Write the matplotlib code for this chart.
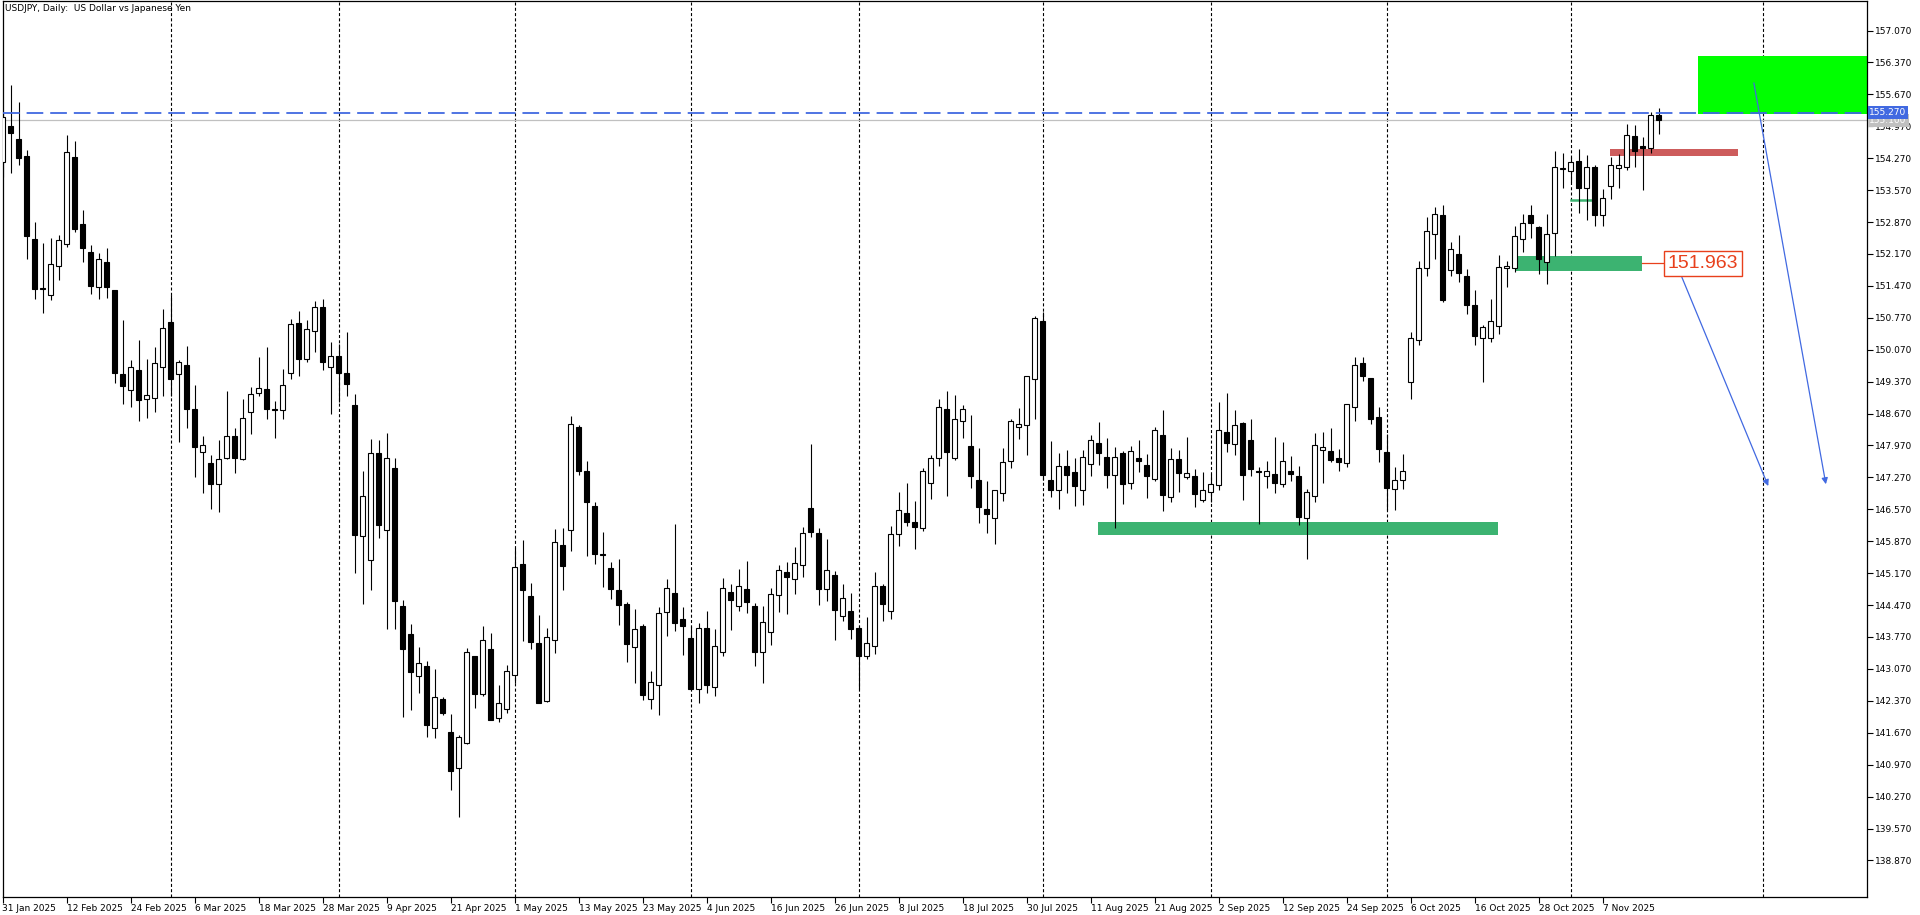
import numpy as np
import matplotlib
matplotlib.use('Agg')
import matplotlib.pyplot as plt
import matplotlib.transforms as mtransforms
from matplotlib.patches import Rectangle

plt.rcParams['font.family'] = ['DejaVu Sans']
plt.rcParams['lines.scale_dashes'] = False

# USDJPY daily candles, 31 Jan 2025 .. 18 Nov 2025 (one bar per weekday)
opens = [
    154.19, 154.98, 154.69, 154.31, 152.49, 151.43, 151.28, 151.91, 152.38, 154.29,
    152.82, 152.21, 151.45, 151.99, 151.38, 149.53, 149.18, 149.62, 148.98, 149.00,
    149.70, 150.67, 149.53, 149.73, 148.78, 147.82, 147.58, 147.12, 147.69, 148.17,
    147.67, 148.70, 149.11, 149.20, 148.77, 148.74, 149.55, 150.65, 149.86, 150.49,
    151.00, 149.70, 149.93, 149.55, 148.86, 145.98, 145.45, 147.80, 146.12, 147.47,
    144.44, 143.83, 142.92, 143.13, 141.77, 142.41, 141.69, 140.89, 141.44, 143.35,
    142.51, 143.50, 141.99, 142.18, 142.93, 145.37, 144.66, 143.63, 142.37, 143.70,
    145.78, 146.11, 148.37, 147.41, 146.64, 145.58, 145.28, 144.79, 144.49, 143.54,
    144.00, 142.42, 142.71, 144.31, 144.73, 144.16, 143.74, 142.64, 143.96, 142.67,
    143.43, 144.75, 144.44, 144.82, 144.44, 143.45, 143.89, 144.68, 145.19, 145.04,
    145.34, 146.60, 146.05, 144.83, 145.12, 144.22, 144.35, 143.96, 143.35, 143.58,
    144.88, 144.35, 146.02, 146.48, 146.29, 146.15, 147.14, 147.69, 148.78, 147.70,
    148.50, 147.95, 147.21, 146.57, 146.39, 146.92, 147.64, 148.38, 148.41, 149.42,
    150.70, 147.21, 147.00, 147.51, 147.38, 147.00, 147.56, 148.02, 147.71, 147.33,
    147.80, 147.15, 147.69, 147.54, 147.24, 148.21, 146.83, 147.67, 147.27, 147.29,
    146.77, 146.94, 147.10, 148.26, 148.01, 148.46, 148.10, 147.40, 147.29, 147.34,
    147.12, 147.40, 147.29, 146.39, 146.87, 147.86, 147.84, 147.69, 147.58, 148.81,
    149.77, 149.44, 148.59, 147.82, 147.01, 147.21, 149.36, 150.28, 151.87, 152.60,
    153.02, 151.81, 152.16, 151.68, 151.04, 150.32, 150.33, 150.60, 151.86, 151.87,
    152.49, 153.02, 152.75, 151.99, 152.62, 154.04, 153.98, 154.21, 153.61, 154.08,
    153.03, 153.65, 154.05, 154.08, 154.75, 154.54, 154.50, 155.21,
]
highs = [
    155.25, 155.87, 155.50, 154.45, 152.86, 152.41, 152.52, 152.59, 154.78, 154.65,
    153.13, 152.36, 152.19, 152.29, 151.39, 150.72, 149.84, 150.28, 149.87, 150.13,
    150.96, 151.28, 149.84, 150.15, 149.29, 148.18, 147.76, 148.08, 149.17, 148.35,
    148.99, 149.25, 149.90, 150.13, 148.95, 149.65, 150.74, 150.91, 150.72, 151.14,
    151.18, 150.24, 150.19, 150.45, 149.09, 147.41, 148.11, 148.08, 148.24, 147.69,
    144.58, 144.05, 143.55, 143.24, 143.07, 142.46, 142.08, 141.62, 143.53, 143.36,
    144.00, 143.86, 142.72, 143.16, 145.72, 145.89, 144.95, 144.25, 143.96, 146.13,
    146.15, 148.62, 148.42, 147.64, 146.72, 146.07, 145.41, 145.47, 144.54, 144.38,
    144.05, 143.02, 144.42, 145.04, 146.25, 144.43, 144.00, 144.08, 144.35, 143.94,
    145.06, 144.93, 145.26, 145.44, 144.52, 144.44, 144.84, 145.34, 145.41, 145.74,
    146.18, 148.00, 146.15, 145.92, 145.22, 144.93, 144.74, 144.00, 144.21, 145.19,
    144.93, 146.20, 146.95, 147.15, 146.75, 147.48, 147.76, 148.99, 149.16, 149.08,
    148.86, 148.64, 147.91, 147.19, 147.00, 147.91, 148.55, 148.79, 149.50, 150.81,
    150.90, 148.07, 147.80, 147.86, 147.70, 147.87, 148.21, 148.48, 148.14, 147.94,
    147.85, 147.96, 148.09, 147.78, 148.37, 148.75, 147.91, 147.87, 148.16, 147.45,
    147.39, 147.34, 148.92, 149.12, 148.75, 148.48, 148.55, 147.49, 147.63, 148.16,
    148.05, 147.74, 147.52, 147.01, 148.24, 148.27, 148.36, 147.89, 148.88, 149.91,
    149.92, 149.46, 148.81, 148.22, 147.49, 147.78, 150.45, 152.02, 152.98, 153.21,
    153.24, 152.43, 152.58, 151.84, 151.37, 150.61, 151.18, 152.15, 152.02, 152.78,
    153.05, 153.24, 152.78, 153.05, 154.43, 154.38, 154.29, 154.47, 154.33, 154.11,
    153.59, 154.29, 154.37, 155.01, 154.99, 154.73, 155.29, 155.37,
]
lows = [
    153.85, 153.94, 154.13, 152.06, 151.18, 150.88, 151.15, 151.60, 152.32, 152.66,
    152.00, 151.30, 151.19, 151.21, 149.35, 148.89, 148.82, 148.51, 148.58, 148.71,
    149.06, 149.06, 148.05, 148.36, 147.27, 146.92, 146.58, 146.50, 147.68, 147.37,
    147.65, 148.23, 149.06, 148.56, 148.14, 148.54, 149.42, 149.50, 149.81, 150.03,
    149.63, 148.67, 148.93, 149.06, 145.17, 144.50, 144.79, 145.93, 143.95, 143.95,
    142.02, 142.17, 142.55, 141.58, 141.56, 142.07, 140.42, 139.83, 141.42, 142.22,
    142.48, 141.94, 141.91, 142.11, 142.77, 143.68, 143.50, 142.32, 142.35, 143.41,
    144.79, 145.66, 147.32, 145.55, 145.37, 144.87, 144.60, 144.04, 143.23, 142.77,
    142.38, 142.18, 142.07, 143.80, 143.91, 143.37, 142.61, 142.33, 142.55, 142.48,
    143.35, 143.93, 144.35, 144.29, 143.14, 142.75, 143.60, 144.32, 144.28, 144.71,
    145.09, 145.97, 144.48, 144.57, 143.71, 144.13, 143.73, 142.64, 143.28, 143.40,
    144.13, 144.17, 145.77, 146.21, 145.71, 146.10, 146.80, 147.51, 146.87, 147.66,
    148.14, 147.04, 146.26, 146.06, 145.82, 146.76, 147.48, 148.12, 147.77, 148.56,
    147.22, 146.83, 146.58, 146.93, 146.65, 146.67, 147.31, 147.55, 147.04, 146.17,
    146.69, 147.02, 147.39, 146.82, 147.20, 146.54, 146.72, 146.96, 147.24, 146.63,
    146.72, 146.72, 147.00, 147.83, 147.75, 146.77, 147.31, 146.25, 147.04, 146.93,
    147.07, 147.18, 146.23, 145.47, 146.74, 147.15, 147.61, 147.42, 147.49, 148.51,
    149.38, 148.43, 147.61, 146.56, 146.56, 147.02, 148.99, 150.18, 151.69, 152.07,
    151.12, 151.69, 151.56, 150.86, 150.18, 149.36, 150.24, 150.42, 151.45, 151.78,
    152.22, 152.53, 151.72, 151.50, 152.12, 153.62, 153.75, 153.06, 152.91, 152.79,
    152.79, 153.38, 153.62, 154.02, 154.08, 153.58, 154.39, 154.79,
]
closes = [
    155.17, 154.83, 154.28, 152.57, 151.41, 151.40, 151.96, 152.47, 154.40, 152.72,
    152.31, 151.47, 152.05, 151.45, 149.57, 149.28, 149.68, 148.97, 149.07, 149.77,
    150.54, 149.43, 149.79, 148.77, 147.93, 147.97, 147.12, 147.68, 148.17, 147.70,
    148.57, 149.09, 149.22, 148.76, 148.74, 149.29, 150.63, 149.86, 150.52, 151.00,
    149.81, 149.93, 149.57, 149.31, 146.01, 146.86, 147.80, 146.23, 147.69, 144.55,
    143.51, 143.01, 143.19, 141.85, 142.45, 142.11, 140.84, 141.57, 143.43, 142.51,
    143.70, 141.96, 142.32, 143.02, 145.30, 144.81, 143.65, 142.33, 143.78, 145.85,
    145.33, 148.43, 147.40, 146.72, 145.60, 145.56, 144.83, 144.48, 143.62, 143.94,
    142.50, 142.78, 144.29, 144.84, 144.08, 144.02, 142.62, 143.96, 142.72, 143.57,
    144.84, 144.59, 144.88, 144.53, 143.45, 144.09, 144.71, 145.23, 145.09, 145.39,
    146.04, 146.08, 144.83, 145.23, 144.37, 144.62, 143.95, 143.36, 143.63, 144.88,
    144.50, 146.02, 146.55, 146.30, 146.19, 147.40, 147.70, 148.82, 147.83, 148.54,
    148.78, 147.31, 146.63, 146.46, 146.99, 147.60, 148.50, 148.43, 149.49, 150.76,
    147.33, 147.00, 147.51, 147.33, 147.09, 147.71, 148.10, 147.81, 147.33, 147.71,
    147.13, 147.84, 147.64, 147.29, 148.32, 146.89, 147.67, 147.37, 147.37, 146.91,
    146.99, 147.12, 148.30, 148.03, 148.41, 147.33, 147.46, 147.39, 147.40, 147.15,
    147.62, 147.35, 146.41, 146.96, 147.97, 147.93, 147.66, 147.61, 148.87, 149.73,
    149.49, 148.56, 147.90, 147.04, 147.21, 147.42, 150.32, 151.86, 152.67, 153.04,
    151.15, 152.27, 151.76, 151.04, 150.38, 150.56, 150.71, 151.88, 151.90, 152.56,
    152.84, 152.84, 152.07, 152.60, 154.08, 154.05, 154.18, 153.62, 154.08, 153.03,
    153.39, 154.11, 154.11, 154.77, 154.43, 154.49, 155.21, 155.10,
]

date_labels = ['31 Jan 2025', '12 Feb 2025', '24 Feb 2025', '6 Mar 2025', '18 Mar 2025',
               '28 Mar 2025', '9 Apr 2025', '21 Apr 2025', '1 May 2025', '13 May 2025',
               '23 May 2025', '4 Jun 2025', '16 Jun 2025', '26 Jun 2025', '8 Jul 2025',
               '18 Jul 2025', '30 Jul 2025', '11 Aug 2025', '21 Aug 2025', '2 Sep 2025',
               '12 Sep 2025', '24 Sep 2025', '6 Oct 2025', '16 Oct 2025', '28 Oct 2025',
               '7 Nov 2025']
date_label_bars = list(range(0, 201, 8))
month_start_bars = [21, 42, 64, 86, 107, 130, 151, 173, 196, 220]
price_ticks = [round(138.87 + 0.7 * k, 3) for k in range(27)]

level_line = 155.27     # blue dashed horizontal line
bid_price = 155.10      # grey bid line
label_price = 151.963   # red text label

# zones: (bar_from, bar_to, price_low, price_high, colour)
zones = [
    (211.9, 240.0, 155.24, 156.51, '#00FF00'),
    (200.9, 216.9, 154.325, 154.47, '#CD5C5C'),
    (189.0, 204.9, 151.80, 152.12, '#3CB371'),
    (136.9, 186.9, 146.01, 146.29, '#3CB371'),
]
# projection arrows: (bar_start, price_start, bar_end, price_end)
arrows = [
    (209.9, 151.66, 220.7, 147.08),
    (218.9, 155.92, 227.9, 147.12),
]

fig = plt.figure(figsize=(19.2, 9.15), dpi=100)
ax = fig.add_axes([2.5 / 1920, 18 / 915, (1867 - 2.5) / 1920, 896 / 915])
ax.set_xlim(0, 233.04)
ax.set_ylim(138.068, 157.717)

# month grid
for b in month_start_bars:
    ax.axvline(b, color='black', lw=0.8, dashes=(2.2, 1.6), zorder=0.5)

# zones
for x0, x1, y0, y1, col in zones:
    ax.add_patch(Rectangle((x0, y0), x1 - x0, y1 - y0, facecolor=col, edgecolor='none', zorder=1))
ax.plot([196.1, 199.1], [153.35, 153.35], color='#3CB371', lw=1.8, zorder=1)

# candles
o = np.array(opens)
h = np.array(highs)
l = np.array(lows)
c = np.array(closes)
x = np.arange(len(o))
up = c >= o
ax.vlines(x, l, h, color='black', lw=0.8, zorder=3)
ax.bar(x[up], np.maximum(c - o, 0.01)[up], bottom=o[up], width=0.6,
       facecolor='white', edgecolor='black', lw=0.8, zorder=4)
ax.bar(x[~up], np.maximum(o - c, 0.01)[~up], bottom=c[~up], width=0.6,
       facecolor='black', edgecolor='black', lw=0.8, zorder=4)

# horizontal lines
ax.axhline(level_line, color='#4169E1', lw=1.3, dashes=(12, 5), zorder=5)
ax.axhline(bid_price, color='#C0C0C0', lw=0.9, zorder=2)

# arrows
for xs, ys, xe, ye in arrows:
    ax.annotate('', xy=(xe, ye), xytext=(xs, ys),
                arrowprops=dict(arrowstyle='-|>', color='#4169E1', lw=0.9,
                                mutation_scale=9, shrinkA=0, shrinkB=0), zorder=6)

# price label
ax.plot([204.9, 207.5], [label_price, label_price], color='#E8401C', lw=0.9, zorder=6)
ax.text(212.5, label_price, f'{label_price:.3f}', ha='center', va='center', fontsize=14,
        family=['Liberation Sans', 'DejaVu Sans'], color='#E8401C', zorder=7,
        bbox=dict(boxstyle='square,pad=0.2', facecolor='white', edgecolor='#E8401C', lw=1))

ax.text(0.0015, 0.997, 'USDJPY, Daily:  US Dollar vs Japanese Yen', transform=ax.transAxes,
        ha='left', va='top', fontsize=6.5, zorder=8)

# axes
for s in ax.spines.values():
    s.set_linewidth(0.9)
ax.yaxis.tick_right()
ax.set_yticks(price_ticks)
ax.set_yticklabels([f'{v:.3f}' for v in price_ticks])
ax.tick_params(axis='y', direction='out', length=4, width=0.8, labelsize=6.5, pad=1.5)
ax.set_xticks(date_label_bars)
ax.set_xticklabels(date_labels)
for t in ax.get_xticklabels():
    t.set_horizontalalignment('left')
ax.tick_params(axis='x', direction='out', length=4, width=0.8, labelsize=6.5, pad=1)

# price tags on axis
trans = mtransforms.blended_transform_factory(ax.transAxes, ax.transData)
ax.text(1.0013, bid_price, f'{bid_price:.3f}', transform=trans, ha='left', va='center',
        fontsize=6.5, color='white', clip_on=False, zorder=10,
        bbox=dict(boxstyle='square,pad=0.2', facecolor='#C0C0C0', edgecolor='none'))
ax.text(1.0013, level_line, f'{level_line:.3f}', transform=trans, ha='left', va='center',
        fontsize=6.5, color='white', clip_on=False, zorder=11,
        bbox=dict(boxstyle='square,pad=0.2', facecolor='#4169E1', edgecolor='none'))

fig.savefig('out.png', dpi=100, facecolor='white')
